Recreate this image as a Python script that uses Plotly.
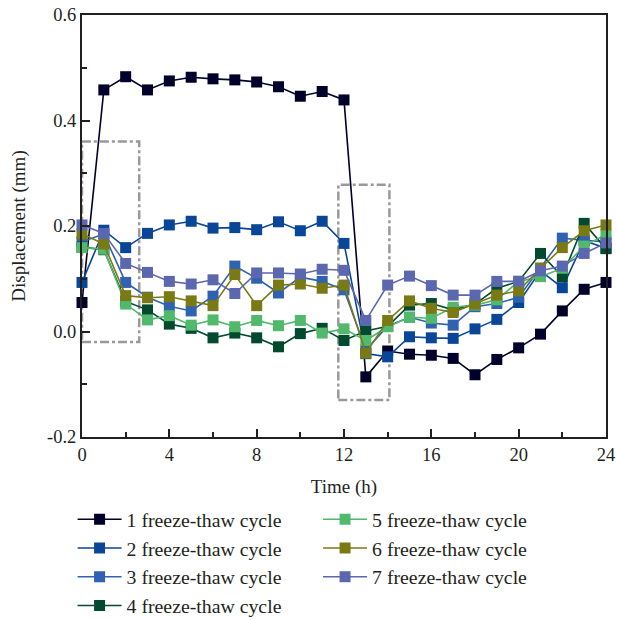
import plotly.graph_objects as go

hours = list(range(25))

cycle1 = [0.055, 0.458, 0.483, 0.458, 0.475, 0.482, 0.479, 0.477, 0.473, 0.464, 0.446, 0.455, 0.439,
          -0.086, -0.037, -0.043, -0.045, -0.051, -0.082, -0.053, -0.031, -0.005, 0.039, 0.080, 0.093]
cycle2 = [0.093, 0.192, 0.159, 0.186, 0.202, 0.209, 0.196, 0.197, 0.193, 0.208, 0.191, 0.209, 0.167,
          -0.042, -0.048, -0.010, -0.012, -0.013, 0.005, 0.023, 0.055, 0.115, 0.083, 0.172, 0.158]
cycle3 = [0.170, 0.185, 0.093, 0.065, 0.048, 0.039, 0.067, 0.124, 0.101, 0.073, 0.103, 0.095, 0.079,
          -0.035, 0.010, 0.027, 0.016, 0.012, 0.047, 0.053, 0.065, 0.120, 0.177, 0.173, 0.170]
cycle4 = [0.160, 0.155, 0.057, 0.041, 0.014, 0.006, -0.012, -0.003, -0.012, -0.029, -0.004, 0.006, -0.017,
          0.001, 0.010, 0.050, 0.053, 0.041, 0.052, 0.082, 0.095, 0.148, 0.104, 0.205, 0.157]
cycle5 = [0.159, 0.156, 0.052, 0.022, 0.030, 0.012, 0.022, 0.009, 0.021, 0.011, 0.021, -0.003, 0.005,
          -0.017, 0.009, 0.027, 0.025, 0.046, 0.050, 0.060, 0.095, 0.104, 0.120, 0.162, 0.184]
cycle6 = [0.185, 0.166, 0.068, 0.064, 0.066, 0.058, 0.049, 0.108, 0.049, 0.088, 0.090, 0.082, 0.088,
          -0.041, 0.021, 0.058, 0.044, 0.036, 0.052, 0.069, 0.077, 0.120, 0.159, 0.191, 0.202]
cycle7 = [0.202, 0.186, 0.129, 0.112, 0.095, 0.090, 0.098, 0.072, 0.111, 0.111, 0.109, 0.118, 0.116,
          0.021, 0.088, 0.105, 0.087, 0.069, 0.069, 0.095, 0.095, 0.115, 0.124, 0.148, 0.168]

series_names = ["1 freeze-thaw cycle", "2 freeze-thaw cycle", "3 freeze-thaw cycle",
                "4 freeze-thaw cycle", "5 freeze-thaw cycle", "6 freeze-thaw cycle",
                "7 freeze-thaw cycle"]
series_values = [cycle1, cycle2, cycle3, cycle4, cycle5, cycle6, cycle7]
series_colors = ["#00002a", "#0a4697", "#2f62b0", "#024a2f", "#52b86b", "#7a7a14", "#5b68b0"]

x_tickvals = [0, 4, 8, 12, 16, 20, 24]
y_tickvals = [-0.2, 0.0, 0.2, 0.4, 0.6]
y_ticktext = ["-0.2", "0.0", "0.2", "0.4", "0.6"]

FONT = "Liberation Serif"
TXT = "#231f20"

fig = go.Figure()
for i, (name, vals, col) in enumerate(zip(series_names, series_values, series_colors)):
    fig.add_trace(go.Scatter(
        x=hours, y=vals, name=name, mode="lines+markers",
        line=dict(color=col, width=1.6),
        marker=dict(symbol="square", size=11, color=col),
        cliponaxis=False,
        legend="legend" if i < 4 else "legend2",
    ))

box_style = dict(color="#999999", width=2.5, dash="dashdot")
fig.add_shape(type="rect", xref="x", yref="y", x0=0, x1=2.62, y0=-0.02, y1=0.36,
              line=box_style, layer="below")
fig.add_shape(type="rect", xref="x", yref="y", x0=11.74, x1=14.08, y0=-0.13, y1=0.278,
              line=box_style, layer="below")

axis_common = dict(showline=True, linecolor="#231f20", linewidth=2, mirror=True,
                   showgrid=False, zeroline=False, ticks="inside", tickcolor="#231f20",
                   ticklen=8, tickwidth=2, automargin=False,
                   tickfont=dict(family=FONT, size=18.5, color=TXT))

fig.update_xaxes(range=[0, 24], tickvals=x_tickvals,
                 minor=dict(ticks="inside", ticklen=5, tickwidth=2, tickcolor="#231f20", dtick=2, tick0=0),
                 title=dict(text="Time (h)", font=dict(family=FONT, size=19, color=TXT), standoff=15),
                 **axis_common)
fig.update_yaxes(range=[-0.2, 0.6], tickvals=y_tickvals, ticktext=y_ticktext,
                 minor=dict(ticks="inside", ticklen=5, tickwidth=2, tickcolor="#231f20", dtick=0.1, tick0=0),
                 title=dict(text="Displacement (mm)", font=dict(family=FONT, size=19, color=TXT), standoff=16),
                 **axis_common)

legend_font = dict(family=FONT, size=19.8, color=TXT)
fig.update_layout(
    width=617, height=620,
    margin=dict(l=82, r=11, t=15, b=183, autoexpand=False),
    plot_bgcolor="white", paper_bgcolor="white",
    showlegend=True,
    legend=dict(x=-0.018, y=-0.149, xanchor="left", yanchor="top", font=legend_font,
                bgcolor="rgba(0,0,0,0)", itemwidth=44),
    legend2=dict(x=0.4505, y=-0.149, xanchor="left", yanchor="top", font=legend_font,
                 bgcolor="rgba(0,0,0,0)", itemwidth=44),
)

fig.write_html("out.html")
